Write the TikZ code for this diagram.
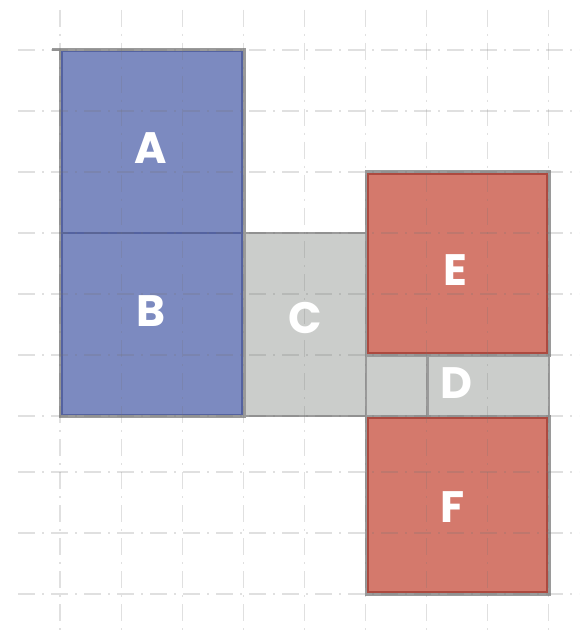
\documentclass[tikz,border=0pt]{standalone}
\usepackage{fontspec}
\newfontfamily\lblfont{Poppins}
\usepackage{xcolor}
\usepackage{tikz}
\usetikzlibrary{positioning,calc}

\definecolor{blockblue}{RGB}{124,138,192}
\definecolor{edgeblue}{RGB}{84,98,160}
\definecolor{blockred}{RGB}{212,121,108}
\definecolor{edgered}{RGB}{172,74,64}
\definecolor{blockgray}{RGB}{203,205,203}
\definecolor{outline}{RGB}{154,154,154}

\begin{document}
\begin{tikzpicture}[
  x=1pt, y=-1pt,
  % Blocks
  block/.style={rectangle, inner sep=0pt, line width=1.4pt},
  bluebox/.style={block, fill=blockblue, draw=edgeblue},
  redbox/.style={block, fill=blockred, draw=edgered},
  graybox/.style={block, fill=blockgray, draw=outline, line width=2.8pt},
  rim/.style={draw=outline, line width=3pt},
  % Grid
  gridline/.style={draw=black!55, opacity=0.22, line width=1.2pt,
    dash pattern=on 17pt off 7pt on 2pt off 7pt},
  % Labels
  lbl/.style={font=\lblfont\bfseries\fontsize{44}{44}\selectfont, text=white, inner sep=0pt},
]
\useasboundingbox (0,0) rectangle (579,636);

% -------------------------------------------------------
% Grey blocks
% -------------------------------------------------------
\node[graybox, minimum width=122pt, minimum height=183pt] (C) at (305,324.5) {};
\node[graybox, minimum width=183pt, minimum height=61pt]  (D) at (457.5,385.5) {};
\draw[rim] (D.north) ++(-30.5,0) coordinate (dtop) -- (dtop |- D.south);

% -------------------------------------------------------
% Blue blocks (left column)
% -------------------------------------------------------
\draw[rim] (60,50) ++(-8,0) -- (244,50) -- (244,416) -- (60,416) -- (60,50);
\node[bluebox, minimum width=180pt, minimum height=181pt] (A) at (152,142) {};
\node[bluebox, minimum width=180pt, minimum height=181pt] (B) at (152,324) {};

% -------------------------------------------------------
% Red blocks (right column)
% -------------------------------------------------------
\node[rim, minimum width=183pt, minimum height=183pt, inner sep=0pt] (Eo) at (457.5,263.5) {};
\node[redbox, minimum width=179pt, minimum height=179pt] (E) at (Eo) {};
\node[rim, minimum width=183pt, minimum height=178pt, inner sep=0pt] (Fo) at (457.5,505) {};
\node[redbox, minimum width=179pt, minimum height=174pt] (F) at (Fo) {};

% -------------------------------------------------------
% Grid over everything
% -------------------------------------------------------
\foreach \gx in {0,...,8}
  \draw[gridline] (60+61.1*\gx,10) -- (60+61.1*\gx,636);
\foreach \gy in {50,111,172,233,294,355,416,472,533,594}
  \draw[gridline] (18,\gy) -- (579,\gy);

% -------------------------------------------------------
% Labels
% -------------------------------------------------------
\node[lbl] (labA) at (151,148) {A};
\node[lbl] (labB) at (151,311) {B};
\node[lbl] (labC) at (305,318) {C};
\node[lbl] (labD) at (456,383) {D};
\node[lbl] (labE) at (455,270) {E};
\node[lbl] (labF) at (453,507) {F};

\end{tikzpicture}
\end{document}
